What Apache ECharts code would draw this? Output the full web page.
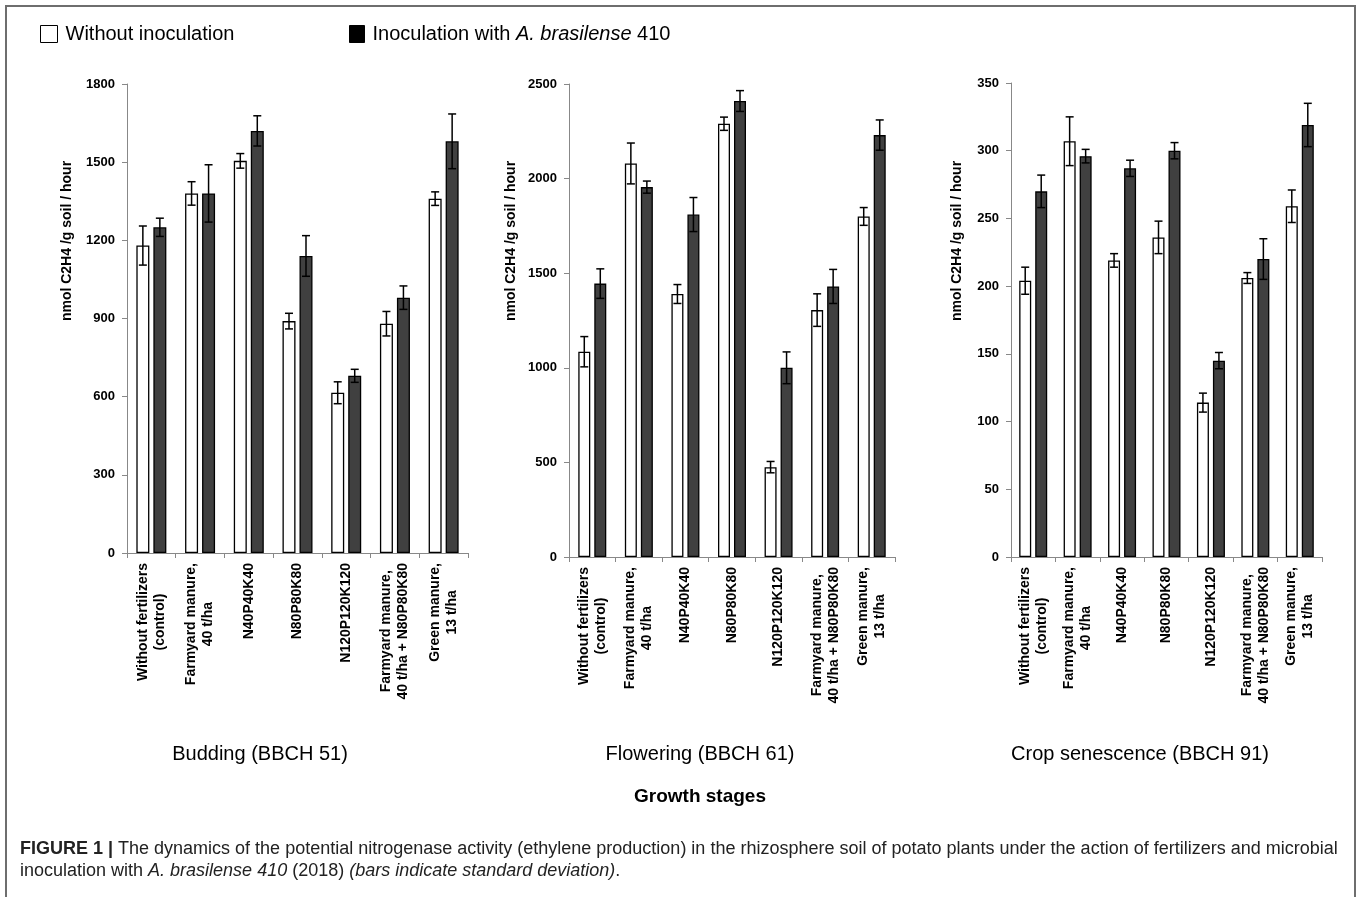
<!DOCTYPE html>
<html>
<head>
<meta charset="utf-8">
<script src="https://cdn.jsdelivr.net/npm/echarts@6/dist/echarts.min.js"></script>
<style>
 html, body { margin: 0; padding: 0; background: #fff; }
 #chart { width: 1360px; height: 897px; }
</style>
</head>
<body>
<div id="chart"></div>
<script>
const FONT = '"Liberation Sans", Arial, Helvetica, sans-serif'

// treatments (x categories, same for every growth stage)
const categories = [
 'Without fertilizers\n(control)',
 'Farmyard manure,\n40 t/ha',
 'N40P40K40',
 'N80P80K80',
 'N120P120K120',
 'Farmyard manure,\n40 t/ha + N80P80K80',
 'Green manure,\n13 t/ha'
]
const stages = ['Budding (BBCH 51)', 'Flowering (BBCH 61)', 'Crop senescence (BBCH 91)']
const seriesNames = ['Without inoculation', 'Inoculation with A. brasilense 410']

// Budding (BBCH 51)
const buddingWithout = [1180, 1380, 1505, 890, 615, 880, 1360]
const buddingWithoutSd = [75, 45, 28, 30, 42, 47, 26]
const buddingWith = [1250, 1380, 1620, 1140, 680, 980, 1580]
const buddingWithSd = [35, 110, 58, 78, 25, 45, 105]

// Flowering (BBCH 61)
const floweringWithout = [1085, 2080, 1390, 2290, 475, 1305, 1800]
const floweringWithoutSd = [80, 108, 50, 35, 30, 86, 47]
const floweringWith = [1445, 1955, 1810, 2410, 1000, 1430, 2230]
const floweringWithSd = [78, 32, 90, 55, 84, 90, 80]

// Crop senescence (BBCH 91)
const senescenceWithout = [204, 307, 219, 236, 114, 206, 259]
const senescenceWithoutSd = [10, 18, 5, 12, 7, 4, 12]
const senescenceWith = [270, 296, 287, 300, 145, 220, 319]
const senescenceWithSd = [12, 5, 6, 6, 6, 15, 16]

// y axis ticks per panel
const yMax = [1800, 2500, 350]
const yStep = [300, 500, 50]

const panels = [
 { without: buddingWithout, withoutSd: buddingWithoutSd, inoc: buddingWith, inocSd: buddingWithSd },
 { without: floweringWithout, withoutSd: floweringWithoutSd, inoc: floweringWith, inocSd: floweringWithSd },
 { without: senescenceWithout, withoutSd: senescenceWithoutSd, inoc: senescenceWith, inocSd: senescenceWithSd }
]

// plot areas
const grids = [
 { left: 127, top: 84, width: 341, height: 469 },
 { left: 569, top: 84, width: 326, height: 473 },
 { left: 1011, top: 83, width: 311, height: 474 }
]
const barW = [13, 12, 12]
const gapPx = 4

const errorBars = function (offset) {
 return function (params, api) {
  const top = api.coord([api.value(0), api.value(1) + api.value(2)])
  const bot = api.coord([api.value(0), api.value(1) - api.value(2)])
  const cx = top[0] + offset
  const hw = 4
  const st = { stroke: '#000', lineWidth: 1.5 }
  return {
   type: 'group',
   children: [
    { type: 'line', shape: { x1: cx, y1: top[1], x2: cx, y2: bot[1] }, style: st },
    { type: 'line', shape: { x1: cx - hw, y1: top[1], x2: cx + hw, y2: top[1] }, style: st },
    { type: 'line', shape: { x1: cx - hw, y1: bot[1], x2: cx + hw, y2: bot[1] }, style: st }
   ]
  }
 }
}

const xAxes = grids.map((g, i) => ({
 type: 'category',
 gridIndex: i,
 data: categories,
 axisLine: { lineStyle: { color: '#888', width: 1 } },
 axisTick: { show: true, length: 5, lineStyle: { color: '#888' } },
 axisLabel: {
  rotate: 90,
  margin: 10,
  interval: 0,
  fontFamily: FONT,
  fontSize: 14,
  fontWeight: 'bold',
  color: '#000',
  lineHeight: 17,
  formatter: v => v.split('\n').map(s => '{c|' + s + '}').join('\n'),
  rich: { c: { align: 'center', fontFamily: FONT, fontSize: 14, fontWeight: 'bold', color: '#000', lineHeight: 17 } }
 }
}))

const yAxes = grids.map((g, i) => ({
 type: 'value',
 gridIndex: i,
 min: 0,
 max: yMax[i],
 interval: yStep[i],
 splitLine: { show: false },
 axisLine: { show: true, lineStyle: { color: '#888', width: 1 } },
 axisTick: { show: true, length: 5, lineStyle: { color: '#888' } },
 axisLabel: {
  margin: 12, fontFamily: FONT, fontSize: 13, fontWeight: 'bold', color: '#000',
  formatter: v => String(v)
 }
}))

const series = []
panels.forEach((p, i) => {
 const off = (barW[i] + gapPx) / 2
 series.push({
  name: seriesNames[0],
  type: 'bar',
  xAxisIndex: i,
  yAxisIndex: i,
  data: p.without,
  barWidth: barW[i],
  barGap: (gapPx / barW[i] * 100) + '%',
  itemStyle: { color: '#fff', borderColor: '#000', borderWidth: 1.3 },
  emphasis: { disabled: true }
 })
 series.push({
  name: seriesNames[1],
  type: 'bar',
  xAxisIndex: i,
  yAxisIndex: i,
  data: p.inoc,
  barWidth: barW[i],
  barGap: (gapPx / barW[i] * 100) + '%',
  itemStyle: { color: '#404040', borderColor: '#000', borderWidth: 1.3 },
  emphasis: { disabled: true }
 })
 series.push({
  type: 'custom',
  xAxisIndex: i,
  yAxisIndex: i,
  z: 5,
  silent: true,
  renderItem: errorBars(-off),
  data: p.without.map((v, k) => [k, v, p.withoutSd[k]])
 })
 series.push({
  type: 'custom',
  xAxisIndex: i,
  yAxisIndex: i,
  z: 5,
  silent: true,
  renderItem: errorBars(off),
  data: p.inoc.map((v, k) => [k, v, p.inocSd[k]])
 })
})

const txt = function (x, y, text, size, weight, extra) {
 return Object.assign({
  type: 'text',
  x: x,
  y: y,
  silent: true,
  style: {
   text: text,
   fontFamily: FONT,
   fontSize: size,
   fontWeight: weight,
   fill: '#000',
   align: 'center',
   verticalAlign: 'middle',
   textAlign: 'center',
   textVerticalAlign: 'middle'
  }
 }, extra || {})
}

const yNameX = [67, 511, 957]
const stageX = [260, 700, 1140]

const graphic = [
 {
  type: 'rect',
  silent: true,
  shape: { x: 6, y: 6, width: 1349, height: 960 },
  style: { fill: 'none', stroke: '#6e6e6e', lineWidth: 2 }
 }
]
yNameX.forEach(x => graphic.push(txt(x, 241, 'nmol C2H4 /g soil / hour', 14, 'bold', { rotation: Math.PI / 2 })))
stages.forEach((s, i) => graphic.push(txt(stageX[i], 754, s, 20, 'normal')))
graphic.push(txt(700, 797, 'Growth stages', 19, 'bold'))
graphic.push({
 type: 'text',
 x: 20,
 y: 838,
 silent: true,
 style: {
  text: '{b|FIGURE 1 | }{n|The dynamics of the potential nitrogenase activity (ethylene production) in the rhizosphere soil of potato plants under the action of fertilizers and microbial}\n' +
   '{n|inoculation with }{i|A. brasilense 410}{n| (2018) }{i|(bars indicate standard deviation)}{n|.}',
  fontFamily: FONT,
  fontSize: 18,
  fill: '#222',
  align: 'left',
  verticalAlign: 'top',
  lineHeight: 22,
  rich: {
   b: { fontFamily: FONT, fontSize: 18, fontWeight: 'bold', fill: '#222', lineHeight: 22 },
   n: { fontFamily: FONT, fontSize: 18, fill: '#222', lineHeight: 22 },
   i: { fontFamily: FONT, fontSize: 18, fontStyle: 'italic', fill: '#222', lineHeight: 22 }
  }
 }
})

const legendBase = {
 top: 24,
 itemWidth: 17,
 itemHeight: 17,
 icon: 'rect',
 selectedMode: false,
 padding: 0,
 textStyle: { fontFamily: FONT, fontSize: 20, color: '#000', padding: [0, 0, 0, 3] }
}

const option = {
 animation: false,
 backgroundColor: '#fff',
 grid: grids,
 xAxis: xAxes,
 yAxis: yAxes,
 legend: [
  Object.assign({}, legendBase, {
   left: 40,
   data: [{ name: seriesNames[0], itemStyle: { color: '#fff', borderColor: '#000', borderWidth: 1 } }]
  }),
  Object.assign({}, legendBase, {
   left: 349,
   itemWidth: 15,
   data: [{ name: seriesNames[1], itemStyle: { color: '#000', borderColor: '#000', borderWidth: 1 } }],
   formatter: () => '{n|Inoculation with }{i|A. brasilense}{n| 410}',
   textStyle: {
    fontFamily: FONT, fontSize: 20, color: '#000', padding: [0, 0, 0, 3],
    rich: {
     n: { fontFamily: FONT, fontSize: 20, color: '#000' },
     i: { fontFamily: FONT, fontSize: 20, color: '#000', fontStyle: 'italic' }
    }
   }
  })
 ],
 tooltip: { show: false },
 graphic: graphic,
 series: series
}

const chart = echarts.init(document.getElementById('chart'), null, { renderer: 'canvas' })
chart.setOption(option)
</script>
</body>
</html>
